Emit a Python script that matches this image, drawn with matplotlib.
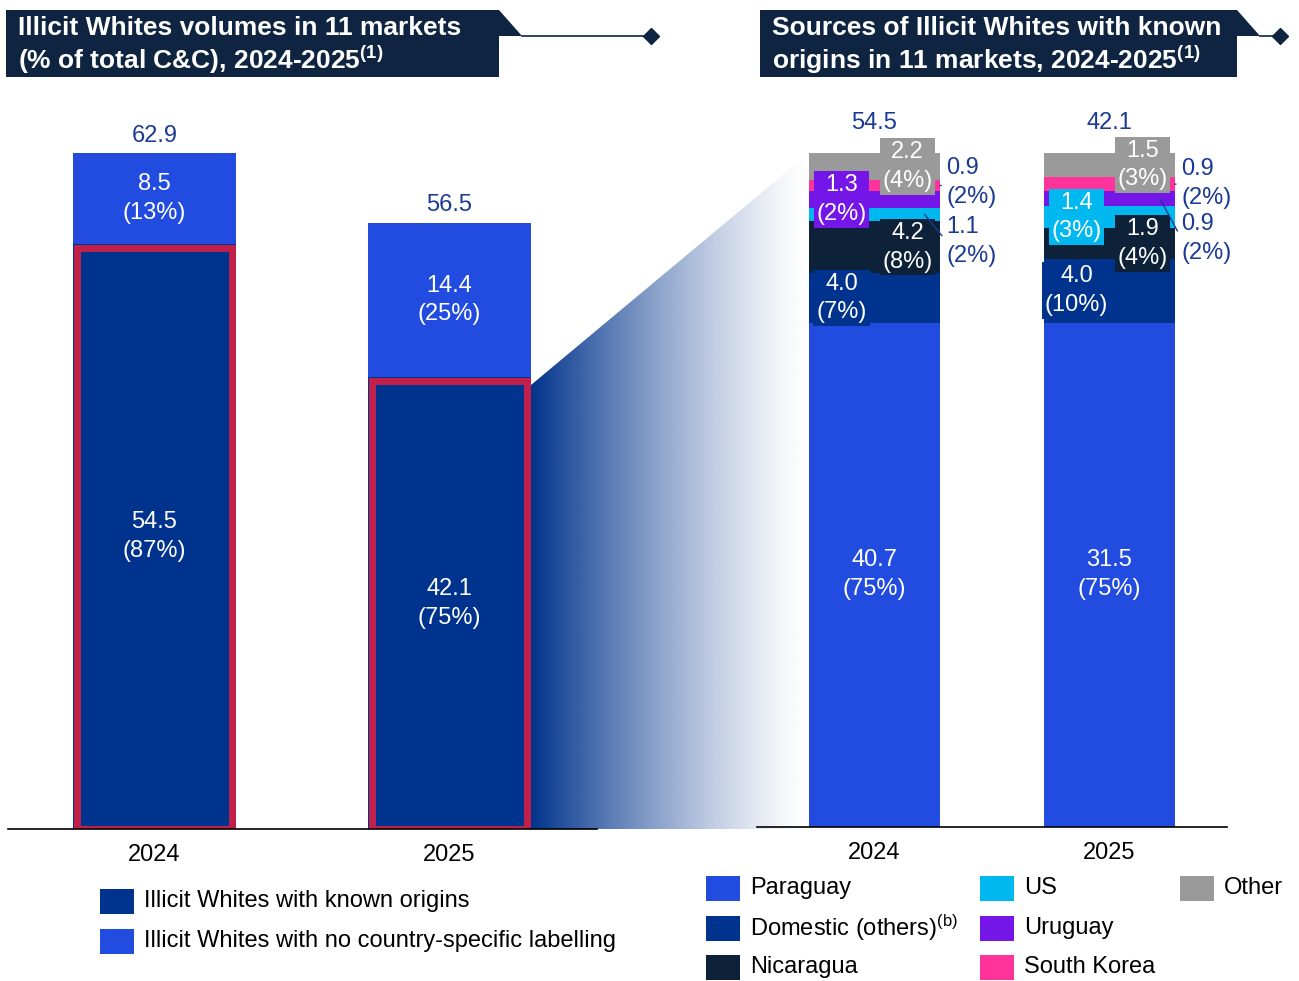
import numpy as np
import matplotlib
matplotlib.use('Agg')
import matplotlib.pyplot as plt
from matplotlib.patches import Polygon, Rectangle

plt.rcParams['font.family'] = ['Liberation Sans', 'DejaVu Sans']
plt.rcParams['mathtext.fontset'] = 'custom'
plt.rcParams['mathtext.rm'] = 'Liberation Sans'
plt.rcParams['mathtext.bf'] = 'Liberation Sans:bold'
plt.rcParams['mathtext.it'] = 'Liberation Sans:italic'

# ---- data ----
years = ['2024', '2025']
known = [54.5, 42.1]
known_pct = [87, 75]
unlabelled = [8.5, 14.4]
unlabelled_pct = [13, 25]
totals = [62.9, 56.5]

sources = ['Paraguay', 'Domestic (others)', 'Nicaragua', 'US', 'Uruguay', 'South Korea', 'Other']
src_2024 = [40.7, 4.0, 4.2, 1.1, 1.3, 0.9, 2.2]
src_2025 = [31.5, 4.0, 1.9, 1.4, 0.9, 0.9, 1.5]
pct_2024 = [75, 7, 8, 2, 2, 2, 4]
pct_2025 = [75, 10, 4, 3, 2, 2, 3]

# ---- styles ----
NAVY = '#00338d'
BRIGHT = '#214cdf'
HEAD = '#0e2440'
CRIMSON = '#c2204b'
LBL = '#1a3a94'
src_colors = [BRIGHT, NAVY, '#0d2238', '#00b8f0', '#7416e8', '#ff3399', '#9a9a9a']
LS = 1.4  # line spacing of the two-line value labels

W, H = 1299, 981
PT = 0.72  # px -> points at dpi 100

fig = plt.figure(figsize=(W / 100, H / 100), dpi=100)


def px_axes(x0, y0, x1, y1, z):
    ax = fig.add_axes([x0 / W, 1 - y1 / H, (x1 - x0) / W, (y1 - y0) / H])
    ax.set_zorder(z)
    ax.patch.set_alpha(0)
    return ax


# overlay for decoration (headers, wedge, legends)
ov = px_axes(0, 0, W, H, 0)
ov.set_xlim(0, W)
ov.set_ylim(H, 0)
ov.axis('off')

# gradient wedge linking the 2025 bar with the right chart
t = np.linspace(0, 1, 300)
grad = np.zeros((2, 300, 4))
grad[..., 0], grad[..., 1], grad[..., 2] = 0.0, 0.2, 0.55
grad[..., 3] = (1 - t) ** 1.3
wedge = Polygon([(531, 385), (809, 153), (809, 829), (531, 829)], closed=True,
                facecolor='none', edgecolor='none')
ov.add_patch(wedge)
im = ov.imshow(grad, extent=(531, 809, 829, 153), aspect='auto', zorder=0)
im.set_clip_path(wedge)
ov.set_xlim(0, W)
ov.set_ylim(H, 0)


# headers
def header(x0, x1, text):
    ov.add_patch(Polygon([(x0, 10), (x1, 10), (x1 + 23, 36), (x1, 36), (x1, 77), (x0, 77)],
                         closed=True, facecolor=HEAD, edgecolor='none'))
    ov.text(x0 + 12, 46, text, color='white', fontsize=19, fontweight='bold',
            ha='left', va='center', linespacing=1.12)


header(6, 499, 'Illicit Whites volumes in 11 markets\n(% of total C&C), 2024-2025$^{\\mathbf{(1)}}$')
ov.plot([522, 651], [36, 36], color=HEAD, lw=1.2)
ov.plot([651], [36], marker='D', ms=8, color=HEAD)
header(760, 1237, 'Sources of Illicit Whites with known\norigins in 11 markets, 2024-2025$^{\\mathbf{(1)}}$')
ov.plot([1260, 1280], [36, 36], color=HEAD, lw=1.2)
ov.plot([1280], [36], marker='D', ms=8, color=HEAD)

# ---- left chart ----
axl = px_axes(8, 110, 597, 829, 1)
x = np.arange(len(years))
axl.set_xlim(-0.4966, 1.5)
axl.set_ylim(0, 67.0)
bw = 0.5525
axl.bar(x, known, bw, color=NAVY, zorder=2)
axl.bar(x, unlabelled, bw, bottom=known, color=BRIGHT, zorder=2)
# crimson highlight frame drawn just inside the known-origin bars
axl.bar(x, np.array(known) - 3.5 / 10.731, bw - 7 / 295, fill=False,
        edgecolor=CRIMSON, linewidth=5, zorder=3)
for i in range(len(years)):
    axl.text(x[i], known[i] / 2, f'{known[i]:.1f}\n({known_pct[i]}%)', color='white',
             fontsize=17, ha='center', va='center', zorder=4, linespacing=LS)
    axl.text(x[i], known[i] + unlabelled[i] / 2, f'{unlabelled[i]:.1f}\n({unlabelled_pct[i]}%)',
             color='white', fontsize=17, ha='center', va='center', zorder=4, linespacing=LS)
    axl.annotate(f'{totals[i]:.1f}', (x[i], totals[i]), xytext=(0, 18 * PT),
                 textcoords='offset points', color=LBL, fontsize=17, ha='center', va='center')

# ---- right chart ----
axr = px_axes(757, 827 - 110 * 6.74, 1227, 827, 1)
axr.set_xlim(-0.5, 1.5)
axr.set_ylim(0, 110)
rw = 0.557

# label placement: (kind, dx_px, dy_px, text_dx_px, text_dy_px)
place = {
    0: [('c', 0, 0), ('box', -33, 0), ('box', 33, 0), ('out', 50, 0, 72, 27),
        ('box', -33, 0), ('out', 65.5, 0, 72, -3), ('box', 33, 0)],
    1: [('c', 0, 0), ('box', -33, 0), ('box', 33, 0), ('box', -33, 0),
        ('out', 50.5, 0, 72, 40), ('out', 65.5, 0, 72, -1), ('box', 33, 0)],
}

for i, (vals, pcts) in enumerate([(src_2024, pct_2024), (src_2025, pct_2025)]):
    share = np.array(vals) / sum(vals) * 100
    bottom = 0
    for j, s in enumerate(share):
        axr.bar(i, s, rw, bottom=bottom, color=src_colors[j], zorder=2)
        mid = bottom + s / 2
        lab = f'{vals[j]:.1f}\n({pcts[j]}%)'
        p = place[i][j]
        if p[0] == 'c':
            axr.text(i, mid, lab, color='white', fontsize=17, ha='center', va='center',
                     zorder=4, linespacing=LS)
        elif p[0] == 'box':
            axr.annotate(lab, (i, mid), xytext=(p[1] * PT, -p[2] * PT), textcoords='offset points',
                         color='white', fontsize=17, ha='center', va='center', zorder=4,
                         linespacing=LS,
                         bbox=dict(boxstyle='square,pad=0.12', fc=src_colors[j], ec='none'))
        else:
            axr.annotate(lab, (i + p[1] / 235, mid), xytext=((p[3] - p[1]) * PT, -p[4] * PT),
                         textcoords='offset points', color=LBL, fontsize=17, ha='left',
                         va='center', zorder=4, annotation_clip=False, linespacing=LS,
                         arrowprops=dict(arrowstyle='-', color=LBL, lw=1, relpos=(0, 0.5),
                                         shrinkA=2, shrinkB=0))
        bottom += s
    axr.annotate(f'{known[i]:.1f}', (i, 100), xytext=(0, 30 * PT), textcoords='offset points',
                 color=LBL, fontsize=17, ha='center', va='center')

for ax in (axl, axr):
    for sp in ('left', 'right', 'top'):
        ax.spines[sp].set_visible(False)
    ax.spines['bottom'].set_linewidth(1.2)
    ax.spines['bottom'].set_zorder(5)
    ax.set_xticks(x)
    ax.set_xticklabels(years, fontsize=17)
    ax.tick_params(axis='x', length=0, pad=10.5)
    ax.set_yticks([])


# ---- legends ----
def legend_item(x0, yc, color, text):
    ov.add_patch(Rectangle((x0, yc - 12.5), 34, 25, facecolor=color, edgecolor='none'))
    ov.text(x0 + 44, yc, text, fontsize=17, ha='left', va='center', color='black')


legend_item(100, 901, NAVY, 'Illicit Whites with known origins')
legend_item(100, 941, BRIGHT, 'Illicit Whites with no country-specific labelling')

labels_r = ['Paraguay', 'Domestic (others)$^{\\mathrm{(b)}}$', 'Nicaragua', 'US', 'Uruguay',
            'South Korea', 'Other']
cols = [706, 706, 706, 980, 980, 980, 1180]
rows = [888, 928, 967, 888, 928, 967, 888]
for k in range(len(sources)):
    legend_item(cols[k], rows[k], src_colors[k], labels_r[k])

fig.savefig('out.png', dpi=100)
